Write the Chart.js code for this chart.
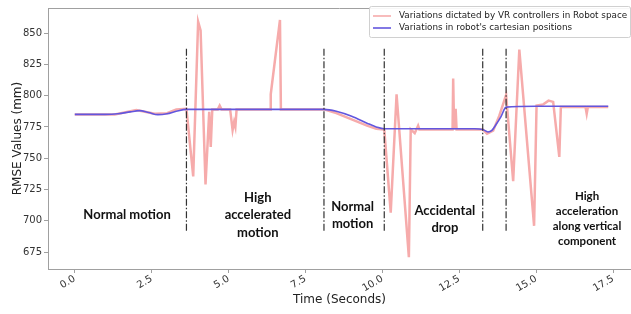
<!DOCTYPE html>
<html lang="en">

<head>
    <meta charset="UTF-8">
    <title>RMSE variations</title>
    <script src="https://cdn.jsdelivr.net/npm/chart.js"></script>
    <style>
        body { margin: 0; background: #fff; }
        canvas { display: block; }
    </style>
</head>

<body>
    <canvas id="chart1" width="631" height="314"></canvas>

<script>
    // VR controller variations (pink line)
    const vrTime = [0, 1.3, 2.0, 2.6, 3.0, 3.3, 3.63, 3.85, 4.01, 4.09, 4.25, 4.37, 4.42, 4.47, 4.65, 4.71, 4.77,
        5.05, 5.13, 5.18, 5.22, 5.26, 6.35, 6.37, 6.67, 6.70, 8.1, 8.5, 9.0, 9.5, 9.8, 10.06,
        10.27, 10.46, 10.86, 10.92, 11.05, 11.16, 11.2, 12.28, 12.3, 12.33, 12.38, 12.41, 13.26, 13.4, 13.6, 13.8, 14.02,
        14.25, 14.45, 14.93, 15.01, 15.23, 15.4, 15.55, 15.75, 15.8, 16.6, 16.64, 16.68, 17.34];
    const vrRmse = [785, 785, 788.5, 785.5, 786, 789, 789.5, 735.5, 859, 852, 729, 787, 759, 789, 789, 792, 789,
        789, 772.5, 779, 775, 789, 789, 801, 860.5, 789, 789, 786, 781, 776, 773.5, 773,
        706.5, 801, 671, 773, 770, 776, 773, 773, 813.7, 773, 789.5, 773, 773, 769.5, 772, 784, 800.5,
        731.6, 836.8, 696, 792, 793, 796, 795, 751, 791, 791, 785.5, 791, 791];

    // robot cartesian positions (blue line)
    const robotTime = [0, 0.5, 1.0, 1.4, 1.8, 2.1, 2.4, 2.7, 3.0, 3.3, 3.63, 4.5, 6, 7.5, 8.1, 8.5, 9.0, 9.5, 9.8, 10.06,
        11, 12, 13.0, 13.26, 13.43, 13.55, 13.71, 13.85, 14.02, 15, 16, 17.34];
    const robotRmse = [785, 785, 785, 785.5, 787, 788, 786.5, 784.8, 785.5, 787.5, 789, 789, 789, 789, 789, 787.5, 783.5, 778, 775, 773.5,
        773.5, 773.5, 773.5, 773, 771, 772, 777.5, 783, 790.8, 791.5, 791.5, 791.5];

    // phase boundaries (dash-dot lines)
    const phaseBoundaries = [3.63, 8.1, 10.06, 13.26, 14.02];
    const boundarySpan = [692, 839];

    const xTicks = [0, 2.5, 5, 7.5, 10, 12.5, 15, 17.5];
    const yTicks = [675, 700, 725, 750, 775, 800, 825, 850];

    const phaseNames = [
        ['Normal motion'],
        ['High', 'accelerated', 'motion'],
        ['Normal', 'motion'],
        ['Accidental', 'drop'],
        ['High', 'acceleration', 'along vertical', 'component']
    ];
    const seriesNames = ['Variations dictated by VR controllers in Robot space', "Variations in robot's cartesian positions"];

    // layout of the phase labels (data coords of the block centre)
    const phaseLabelPos = [
        { x: 1.7, y: 704.5, size: 13, gap: 17 },
        { x: 5.95, y: 704.5, size: 13, gap: 17.5 },
        { x: 9.03, y: 704, size: 13, gap: 17 },
        { x: 12.03, y: 701, size: 13, gap: 16.5 },
        { x: 16.65, y: 702, size: 11.5, gap: 15 }
    ];

    const pinkColor = '#f6abab';
    const blueColor = 'rgb(98, 86, 222)';

    const dividerPoints = [];
    phaseBoundaries.forEach(function (t) {
        dividerPoints.push({ x: t, y: boundarySpan[0] });
        dividerPoints.push({ x: t, y: boundarySpan[1] });
        dividerPoints.push({ x: t, y: null });
    });

    const labelsPlugin = {
        id: 'labelsPlugin',
        afterDatasetsDraw(chart) {
            const ctx = chart.ctx;
            const xs = chart.scales.x, ys = chart.scales.y;
            ctx.save();
            ctx.fillStyle = '#111';
            ctx.textAlign = 'center';
            ctx.textBaseline = 'middle';
            phaseNames.forEach(function (lines, i) {
                const p = phaseLabelPos[i];
                ctx.font = 'bold ' + p.size + 'px Lato';
                const cx = xs.getPixelForValue(p.x);
                const cy = ys.getPixelForValue(p.y);
                const top = cy - (lines.length - 1) * p.gap / 2;
                lines.forEach(function (s, j) {
                    ctx.fillText(s, cx, top + j * p.gap);
                });
            });
            ctx.restore();
        },
        afterDraw(chart) {
            const ctx = chart.ctx;
            const a = chart.chartArea;
            ctx.save();
            // top frame
            ctx.strokeStyle = '#a0a0a0';
            ctx.lineWidth = 1;
            ctx.beginPath();
            ctx.moveTo(a.left, a.top + 0.5);
            ctx.lineTo(a.right, a.top + 0.5);
            ctx.stroke();

            // legend box
            const bx = 369, by = 6, bw = 261, bh = 31;
            ctx.fillStyle = 'rgba(255,255,255,0.9)';
            ctx.strokeStyle = '#d0d0d0';
            ctx.beginPath();
            ctx.roundRect(bx + 0.5, by + 0.5, bw, bh, 2);
            ctx.fill();
            ctx.stroke();
            const colors = [pinkColor, blueColor];
            ctx.font = '8.8px "DejaVu Sans"';
            ctx.textAlign = 'left';
            ctx.textBaseline = 'middle';
            seriesNames.forEach(function (s, i) {
                const yy = by + 10 + i * 12;
                ctx.strokeStyle = colors[i];
                ctx.lineWidth = 1.6;
                ctx.beginPath();
                ctx.moveTo(bx + 4, yy);
                ctx.lineTo(bx + 22, yy);
                ctx.stroke();
                ctx.fillStyle = '#222';
                ctx.fillText(s, bx + 30, yy);
            });
            ctx.restore();
        }
    };

    new Chart(document.getElementById('chart1'), {
        type: 'line',
        data: {
            datasets: [{
                label: 'boundaries',
                data: dividerPoints,
                borderColor: '#333',
                borderWidth: 1.2,
                borderDash: [7, 2, 1.5, 2],
                pointRadius: 0,
                spanGaps: false,
                order: 0
            }, {
                label: seriesNames[1],
                data: robotTime.map(function (t, i) { return { x: t, y: robotRmse[i] }; }),
                borderColor: blueColor,
                borderWidth: 1.6,
                pointRadius: 0,
                cubicInterpolationMode: 'monotone',
                order: 1
            }, {
                label: seriesNames[0],
                data: vrTime.map(function (t, i) { return { x: t, y: vrRmse[i] }; }),
                borderColor: pinkColor,
                borderWidth: 2.5,
                pointRadius: 0,
                tension: 0,
                order: 2
            }]
        },
        options: {
            responsive: false,
            animation: false,
            devicePixelRatio: 1,
            layout: { padding: { top: 5, right: 0, left: 0, bottom: 0 } },
            plugins: {
                legend: { display: false },
                tooltip: { enabled: false }
            },
            scales: {
                x: {
                    type: 'linear',
                    min: -0.87,
                    max: 18.08,
                    afterBuildTicks: function (axis) { axis.ticks = xTicks.map(function (v) { return { value: v }; }); },
                    afterFit: function (scale) { scale.height = 45; },
                    ticks: {
                        autoSkip: false,
                        minRotation: 30,
                        maxRotation: 30,
                        padding: 0,
                        color: '#333',
                        font: { family: 'DejaVu Sans', size: 10 },
                        callback: function (v) { return Number(v).toFixed(1); }
                    },
                    grid: { drawOnChartArea: false, tickLength: 4, color: '#a0a0a0' },
                    border: { color: '#a0a0a0', width: 1 },
                    title: {
                        display: true,
                        text: 'Time (Seconds)',
                        color: '#222',
                        font: { family: 'DejaVu Sans', size: 12 },
                        padding: { top: 0, bottom: 7 }
                    }
                },
                y: {
                    min: 661.5,
                    max: 870,
                    afterBuildTicks: function (axis) { axis.ticks = yTicks.map(function (v) { return { value: v }; }); },
                    afterFit: function (scale) { scale.width = 48; },
                    ticks: {
                        padding: 2,
                        color: '#333',
                        font: { family: 'DejaVu Sans', size: 10 }
                    },
                    grid: { drawOnChartArea: false, tickLength: 4, color: '#a0a0a0' },
                    border: { color: '#a0a0a0', width: 1 },
                    title: {
                        display: true,
                        text: 'RMSE Values (mm)',
                        color: '#222',
                        font: { family: 'DejaVu Sans', size: 12 },
                        padding: { top: 11, bottom: 0 }
                    }
                }
            }
        },
        plugins: [labelsPlugin]
    });
</script>
</body>

</html>
